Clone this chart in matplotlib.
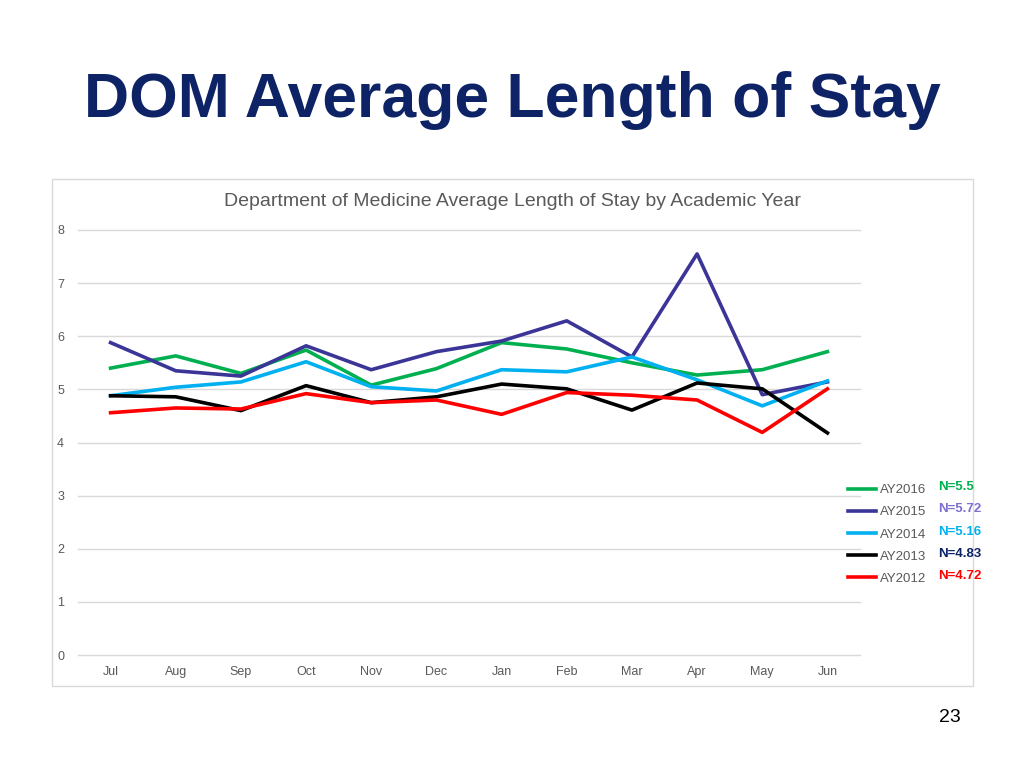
import matplotlib.pyplot as plt
from matplotlib.patches import Rectangle

plt.rcParams['font.family'] = ['Liberation Sans', 'DejaVu Sans']

months = ['Jul', 'Aug', 'Sep', 'Oct', 'Nov', 'Dec', 'Jan', 'Feb', 'Mar', 'Apr', 'May', 'Jun']

ay2016 = [5.40, 5.63, 5.30, 5.74, 5.08, 5.39, 5.88, 5.76, 5.50, 5.27, 5.37, 5.71]
ay2015 = [5.88, 5.35, 5.25, 5.82, 5.37, 5.71, 5.91, 6.29, 5.61, 7.55, 4.90, 5.14]
ay2014 = [4.88, 5.04, 5.14, 5.52, 5.05, 4.97, 5.37, 5.33, 5.61, 5.18, 4.69, 5.16]
ay2013 = [4.88, 4.86, 4.60, 5.07, 4.75, 4.86, 5.10, 5.01, 4.61, 5.12, 5.01, 4.18]
ay2012 = [4.56, 4.65, 4.63, 4.92, 4.75, 4.80, 4.53, 4.94, 4.89, 4.80, 4.19, 5.01]

series = ['AY2016', 'AY2015', 'AY2014', 'AY2013', 'AY2012']
values = [ay2016, ay2015, ay2014, ay2013, ay2012]
colors = ['#00B050', '#3A3597', '#00B0F0', '#000000', '#FF0000']
n_labels = ['N=5.5', 'N=5.72', 'N=5.16', 'N=4.83', 'N=4.72']
n_colors = ['#00B050', '#7B6FD0', '#00B0F0', '#0D2366', '#FF0000']

fig = plt.figure(figsize=(10.24, 7.68), dpi=100)

# slide title
fig.text(0.5, 1-100/768, 'DOM Average Length of Stay', ha='center', va='center',
         fontsize=45, fontweight='bold', color='#0D2366')
fig.text(950/1024, 1-717/768, '23', ha='center', va='center', fontsize=14)

# chart frame
fig.patches.append(Rectangle((52/1024, 1-686/768), 921/1024, 507/768,
                             transform=fig.transFigure, fill=False,
                             edgecolor='#D9D9D9', linewidth=1))

ax = fig.add_axes([78/1024, 1-655/768, 782/1024, 425/768])
x = list(range(len(months)))
for name, v, c in zip(series, values, colors):
    ax.plot(x, v, color=c, linewidth=2.6, label=name)

ax.set_xlim(-0.5, 11.5)
ax.set_ylim(0, 8)
ax.set_yticks(range(0, 9))
ax.set_xticks(x)
ax.set_xticklabels(months)
ax.tick_params(length=0, labelsize=9, colors='#595959', pad=8)
ax.tick_params(axis='y', pad=10)
ax.grid(axis='y', color='#D9D9D9', linewidth=1)
for gl in ax.yaxis.get_gridlines():
    gl.set_clip_on(False)
ax.set_axisbelow(True)
for s in ax.spines.values():
    s.set_visible(False)

fig.text(512/1024, 1-202/768,
         'Department of Medicine Average Length of Stay by Academic Year',
         ha='center', va='center', fontsize=14, color='#595959')

leg = ax.legend(loc='upper left', bbox_to_anchor=(848/1024, 1-484/768),
                bbox_transform=fig.transFigure, frameon=False, fontsize=9.5,
                handlelength=2.1, handletextpad=0.3, labelspacing=0.75,
                borderpad=0, borderaxespad=0)
for t in leg.get_texts():
    t.set_color('#595959')

for i, (lab, c) in enumerate(zip(n_labels, n_colors)):
    fig.text(938/1024, 1-(487 + 22.3*i)/768, lab, ha='left', va='center',
             fontsize=9.5, fontweight='bold', color=c)

fig.savefig('out.png', dpi=100)
